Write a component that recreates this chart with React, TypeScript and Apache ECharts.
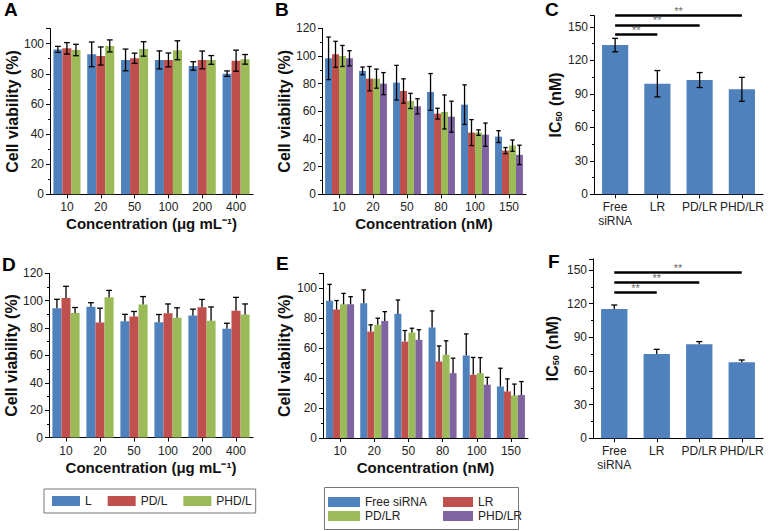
import React, { useEffect, useRef } from 'react';
import * as echarts from 'echarts';

// ---------- categories ----------
const concA = ['10', '20', '50', '100', '200', '400'];
const concB = ['10', '20', '50', '80', '100', '150'];
const formulations = ['Free\nsiRNA', 'LR', 'PD/LR', 'PHD/LR'];

const namesA = ['L', 'PD/L', 'PHD/L'];
const namesB = ['Free siRNA', 'LR', 'PD/LR', 'PHD/LR'];

// ---------- panel A (two-sided SD) ----------
const aL = [96.2, 92.9, 89.2, 89.2, 85.2, 80.1];
const aPDL = [96.9, 91.8, 90.3, 89.2, 89.2, 88.7];
const aPHDL = [95.8, 98.5, 96.5, 95.6, 89.2, 89.6];
const aLErr = [2.0, 8.2, 7.2, 6.0, 2.8, 1.8];
const aPDLErr = [3.8, 6.0, 3.4, 4.6, 5.9, 7.0];
const aPHDLErr = [3.8, 4.0, 4.8, 6.3, 2.9, 3.2];

// ---------- panel B (two-sided SD) ----------
const bFree = [98.3, 89.2, 80.7, 74.0, 64.8, 41.7];
const bLR = [101.2, 83.6, 74.7, 58.3, 44.6, 31.6];
const bPDLR = [100.0, 83.6, 67.5, 59.5, 44.6, 35.2];
const bPHDLR = [98.3, 80.0, 63.6, 56.1, 43.1, 28.5];
const bFreeErr = [15.4, 2.8, 12.5, 13.3, 14.3, 4.3];
const bLRErr = [9.4, 8.8, 8.8, 3.9, 9.4, 2.2];
const bPDLRErr = [7.6, 6.9, 5.5, 12.3, 2.0, 4.1];
const bPHDLRErr = [5.5, 8.0, 5.5, 11.2, 8.4, 7.0];

// ---------- panel C (two-sided SD) ----------
const cIC50 = [133.6, 99.0, 102.3, 94.0];
const cIC50Err = [6.0, 11.8, 6.7, 10.7];
const cSigLevels = [143.5, 151.6, 160.0];

// ---------- panel D (upper SD) ----------
const dL = [94.5, 95.5, 85.0, 84.3, 89.2, 79.4];
const dPDL = [102.0, 84.0, 88.5, 90.8, 95.1, 92.7];
const dPHDL = [91.0, 102.5, 97.2, 87.5, 85.4, 89.8];
const dLErr = [6.5, 3.0, 5.0, 5.6, 4.6, 4.1];
const dPDLErr = [8.5, 10.5, 3.6, 6.8, 5.8, 9.7];
const dPHDLErr = [4.0, 5.0, 5.8, 7.3, 10.0, 7.8];

// ---------- panel E (upper SD) ----------
const eFree = [91.6, 90.0, 82.9, 73.8, 55.1, 34.4];
const eLR = [85.8, 71.1, 64.4, 51.1, 42.2, 31.1];
const ePDLR = [89.3, 75.6, 70.4, 55.6, 43.3, 28.4];
const ePHDLR = [89.3, 78.2, 65.6, 43.3, 35.6, 28.7];
const eFreeErr = [11.0, 8.9, 9.3, 11.1, 14.4, 12.2];
const eLRErr = [6.0, 4.5, 7.4, 10.4, 11.6, 8.4];
const ePDLRErr = [7.3, 4.4, 2.9, 9.3, 10.4, 7.6];
const ePHDLRErr = [5.1, 6.2, 6.7, 10.0, 4.9, 9.0];

// ---------- panel F (upper SD) ----------
const fIC50 = [115.2, 75.1, 83.8, 67.7];
const fIC50Err = [3.6, 4.2, 2.4, 2.1];
const fSigLevels = [130.0, 138.7, 148.0];
const sigLabel = '**';

const colors = ['#4F81BD', '#C0504D', '#9BBB59', '#8064A2'];
const FONT = '"Liberation Sans", Arial, Helvetica, sans-serif';

function errorSeries(g: number, values: number[][], errs: number[][], twoSided: boolean, gapFrac: number) {
  const n = values.length;
  const data: number[][] = [];
  values.forEach((vals, si) =>
    vals.forEach((v, ci) => {
      data.push([ci, si, twoSided ? v - errs[si][ci] : v, v + errs[si][ci]]);
    })
  );
  return {
    type: 'custom',
    xAxisIndex: g,
    yAxisIndex: g,
    data,
    z: 10,
    silent: true,
    encode: { x: 0, y: [2, 3] },
    renderItem: (params: any, api: any) => {
      const ci = api.value(0);
      const si = api.value(1);
      const lo = api.value(2);
      const hi = api.value(3);
      const pLo = api.coord([ci, lo]);
      const pHi = api.coord([ci, hi]);
      const catW = api.size([1, 0])[0];
      const bw = (catW * (1 - gapFrac)) / n;
      const x = pLo[0] + (si - (n - 1) / 2) * bw;
      const cap = Math.min(bw * 0.32, 3);
      const style = { stroke: '#000', lineWidth: 1.3 };
      const children: any[] = [
        { type: 'line', shape: { x1: x, y1: pLo[1], x2: x, y2: pHi[1] }, style },
        { type: 'line', shape: { x1: x - cap, y1: pHi[1], x2: x + cap, y2: pHi[1] }, style },
      ];
      if (twoSided) {
        children.push({ type: 'line', shape: { x1: x - cap, y1: pLo[1], x2: x + cap, y2: pLo[1] }, style });
      }
      return { type: 'group', children };
    },
  };
}

function barSeries(g: number, names: string[], values: number[][], gap: string) {
  return values.map((vals, i) => ({
    type: 'bar',
    name: names[i],
    xAxisIndex: g,
    yAxisIndex: g,
    data: vals,
    itemStyle: { color: colors[i] },
    barGap: '0%',
    barCategoryGap: gap,
    silent: true,
  }));
}

function xAxis(g: number, data: string[], name: string) {
  return {
    type: 'category',
    gridIndex: g,
    data,
    axisLine: { show: true, lineStyle: { color: '#000', width: 1 } },
    axisTick: { show: true, alignWithLabel: true, length: 4, lineStyle: { color: '#000' } },
    axisLabel: { color: '#222', fontSize: 12, margin: 6, fontFamily: FONT, lineHeight: 14, interval: 0 },
    name,
    nameLocation: 'middle',
    nameGap: 22,
    nameTextStyle: { fontWeight: 'bold', fontSize: 15, color: '#111', fontFamily: FONT },
  };
}

function yAxis(g: number, max: number, interval: number, name: string, nameGap: number, rich?: any) {
  return {
    type: 'value',
    gridIndex: g,
    min: 0,
    max,
    interval,
    axisLine: { show: true, lineStyle: { color: '#000', width: 1 } },
    axisTick: { show: true, length: 4, lineStyle: { color: '#000' } },
    minorTick: { show: true, splitNumber: 2, length: 2, lineStyle: { color: '#000' } },
    splitLine: { show: false },
    minorSplitLine: { show: false },
    axisLabel: { color: '#222', fontSize: 12, margin: 6, fontFamily: FONT, showMaxLabel: max % interval === 0 },
    name,
    nameLocation: 'middle',
    nameGap,
    nameRotate: 90,
    nameTextStyle: rich
      ? { fontFamily: FONT, color: '#111', rich }
      : { fontWeight: 'bold', fontSize: 16, color: '#111', fontFamily: FONT },
  };
}

function sigMarkLine(levels: number[]) {
  return {
    symbol: 'none',
    silent: true,
    lineStyle: { color: '#000', width: 2.5, type: 'solid' },
    label: {
      show: true,
      position: 'insideMiddleTop',
      formatter: sigLabel,
      color: '#6a6a6a',
      fontSize: 11,
      distance: -1,
      fontFamily: FONT,
      textBorderWidth: 0,
    },
    emphasis: { disabled: true },
    data: levels.map((lv, i) => [
      { coord: [formulations[0], lv] },
      { coord: [formulations[i + 1], lv] },
    ]),
  };
}

const icRich = {
  a: { fontSize: 16, fontWeight: 'bold', color: '#111', fontFamily: FONT, lineHeight: 20, verticalAlign: 'bottom' },
  s: { fontSize: 9, fontWeight: 'bold', color: '#111', fontFamily: FONT, lineHeight: 20, verticalAlign: 'bottom', padding: [0, 1, 0, 0] },
};

export default function App() {
  const ref = useRef<HTMLDivElement>(null);
  useEffect(() => {
    if (!ref.current) return;
    const chart = echarts.init(ref.current, undefined, { renderer: 'svg' });
    const letter = (t: string, x: number, y: number) => ({
      type: 'text',
      x,
      y,
      style: { text: t, fontSize: 19, fontWeight: 'bold', fontFamily: FONT, fill: '#000', verticalAlign: 'top' },
    });
    const legendCommon = {
      icon: 'rect',
      itemHeight: 10,
      selectedMode: false,
      textStyle: { fontSize: 12, color: '#222', fontFamily: FONT },
    };
    chart.setOption({
      animation: false,
      textStyle: { fontFamily: FONT },
      grid: [
        { left: 50, top: 28.6, width: 203, height: 165.7 },
        { left: 322, top: 28.3, width: 204, height: 166 },
        { left: 594, top: 15.6, width: 169, height: 178.7 },
        { left: 49, top: 273.3, width: 204, height: 164.2 },
        { left: 323, top: 273.3, width: 205, height: 164.7 },
        { left: 593, top: 258.8, width: 170, height: 179.5 },
      ],
      xAxis: [
        xAxis(0, concA, 'Concentration (μg mL⁻¹)'),
        xAxis(1, concB, 'Concentration (nM)'),
        xAxis(2, formulations, ''),
        xAxis(3, concA, 'Concentration (μg mL⁻¹)'),
        xAxis(4, concB, 'Concentration (nM)'),
        xAxis(5, formulations, ''),
      ],
      yAxis: [
        yAxis(0, 110, 20, 'Cell viability (%)', 28),
        yAxis(1, 120, 20, 'Cell viability (%)', 30),
        yAxis(2, 160, 30, '{a|IC}{s|50}{a| (nM)}', 31, icRich),
        yAxis(3, 120, 20, 'Cell viability (%)', 29),
        yAxis(4, 110, 20, 'Cell viability (%)', 31),
        yAxis(5, 160, 30, '{a|IC}{s|50}{a| (nM)}', 33, icRich),
      ],
      legend: [
        {
          ...legendCommon,
          data: namesA,
          left: 44,
          top: 489,
          orient: 'horizontal',
          itemWidth: 28,
          itemGap: 16,
          borderColor: '#777',
          borderWidth: 1,
          padding: [6, 4, 6, 8],
        },
        {
          ...legendCommon,
          data: [namesB[0], namesB[2]],
          left: 328,
          top: 496,
          orient: 'vertical',
          itemWidth: 32,
          itemGap: 2,
          padding: 0,
        },
        {
          ...legendCommon,
          data: [namesB[1], namesB[3]],
          left: 443,
          top: 496,
          orient: 'vertical',
          itemWidth: 30,
          itemGap: 2,
          padding: 0,
        },
      ],
      graphic: [
        letter('A', 4, 0),
        letter('B', 275, 0),
        letter('C', 545, 0),
        letter('D', 2, 255),
        letter('E', 276, 254),
        letter('F', 548, 252),
        {
          type: 'rect',
          shape: { x: 324.5, y: 487.5, width: 194, height: 42 },
          style: { fill: 'none', stroke: '#777', lineWidth: 1 },
        },
      ],
      series: [
        ...barSeries(0, namesA, [aL, aPDL, aPHDL], '20%'),
        errorSeries(0, [aL, aPDL, aPHDL], [aLErr, aPDLErr, aPHDLErr], true, 0.2),
        ...barSeries(1, namesB, [bFree, bLR, bPDLR, bPHDLR], '18%'),
        errorSeries(1, [bFree, bLR, bPDLR, bPHDLR], [bFreeErr, bLRErr, bPDLRErr, bPHDLRErr], true, 0.18),
        {
          type: 'bar',
          name: 'IC50 (NCI-H1299)',
          xAxisIndex: 2,
          yAxisIndex: 2,
          data: cIC50,
          itemStyle: { color: colors[0] },
          barCategoryGap: '38%',
          silent: true,
          markLine: sigMarkLine(cSigLevels),
        },
        errorSeries(2, [cIC50], [cIC50Err], true, 0.38),
        ...barSeries(3, namesA, [dL, dPDL, dPHDL], '20%'),
        errorSeries(3, [dL, dPDL, dPHDL], [dLErr, dPDLErr, dPHDLErr], false, 0.2),
        ...barSeries(4, namesB, [eFree, eLR, ePDLR, ePHDLR], '18%'),
        errorSeries(4, [eFree, eLR, ePDLR, ePHDLR], [eFreeErr, eLRErr, ePDLRErr, ePHDLRErr], false, 0.18),
        {
          type: 'bar',
          name: 'IC50 (second line)',
          xAxisIndex: 5,
          yAxisIndex: 5,
          data: fIC50,
          itemStyle: { color: colors[0] },
          barCategoryGap: '38%',
          silent: true,
          markLine: sigMarkLine(fSigLevels),
        },
        errorSeries(5, [fIC50], [fIC50Err], false, 0.38),
      ],
    });
    return () => chart.dispose();
  }, []);
  return <div ref={ref} style={{ position: 'absolute', left: 0, top: 0, width: 769, height: 531 }} />;
}
